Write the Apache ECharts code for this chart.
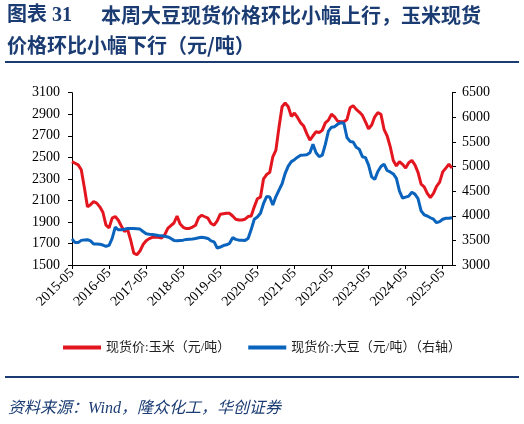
<!DOCTYPE html>
<html><head><meta charset="utf-8">
<script src="https://cdn.jsdelivr.net/npm/echarts@6/dist/echarts.min.js"></script>
<style>html,body{margin:0;padding:0;background:#fff}#c{width:524px;height:424px}</style>
</head><body><div id="c"></div>
<script>
// Monthly categories 2015-05 .. 2025-08
var startYear = 2015, startMonth = 5, monthCount = 124;
var categories = [];
for (var i = 0; i < monthCount; i++) {
  var mm = startMonth - 1 + i;
  var y = startYear + Math.floor(mm / 12);
  var m = (mm % 12) + 1;
  categories.push(y + '-' + (m < 10 ? '0' + m : m));
}
var cornPrice = [
 2460,2445,2430,2385,2220,2040,2060,2088,2075,2040,1990,1870,
 1845,1935,1950,1915,1860,1810,1830,1730,1610,1595,1630,1690,
 1725,1745,1757,1757,1757,1750,1780,1840,1865,1890,1955,1880,
 1850,1838,1840,1852,1870,1940,1962,1948,1935,1885,1870,1910,
 1972,1976,1980,1980,1955,1925,1918,1918,1925,1950,1955,2040,
 2115,2130,2300,2340,2360,2505,2567,2780,2970,3005,2970,2880,
 2910,2870,2820,2790,2720,2660,2700,2737,2730,2750,2820,2845,
 2900,2876,2835,2830,2830,2850,2960,2980,2945,2920,2890,2830,
 2765,2800,2876,2915,2900,2760,2700,2600,2470,2420,2459,2435,
 2400,2450,2472,2430,2360,2250,2225,2165,2125,2165,2230,2270,
 2365,2400,2435,2400
];
var soyPrice = [
 3530,3455,3455,3500,3510,3515,3490,3425,3425,3420,3405,3380,
 3400,3540,3770,3715,3715,3725,3740,3740,3740,3735,3730,3680,
 3635,3625,3620,3610,3600,3595,3585,3570,3540,3500,3495,3500,
 3505,3520,3525,3530,3540,3555,3565,3555,3540,3490,3470,3345,
 3365,3395,3410,3440,3555,3520,3505,3505,3500,3540,3720,3930,
 3975,4050,4250,4390,4380,4220,4390,4520,4650,4860,5010,5100,
 5140,5190,5230,5234,5240,5280,5450,5280,5200,5230,5450,5720,
 5800,5810,5860,5890,5880,5590,5510,5500,5390,5350,5200,5180,
 5030,4790,4740,4900,5000,5050,4920,4890,4850,4760,4500,4360,
 4380,4400,4480,4440,4350,4100,4020,3995,3960,3930,3860,3880,
 3930,3950,3950,3960
];
var seriesNames = ['现货价:玉米（元/吨）', '现货价:大豆（元/吨）（右轴）'];
var titleLine1a = '图表 31';
var titleLine1b = '本周大豆现货价格环比小幅上行，玉米现货';
var titleLine2 = '价格环比小幅下行（元/吨）';
var sourceText = '资料来源：Wind，隆众化工，华创证券';

var navy = '#1B3C73';
var serif = '"Liberation Serif","Noto Sans CJK SC",serif';
function plain(v) { return String(v); }
var chart = echarts.init(document.getElementById('c'));
chart.setOption({
  animation: false,
  backgroundColor: '#fff',
  graphic: [
    {type:'text', left:7, top:6, style:{text:titleLine1a, font:'bold 20px "Liberation Serif","Noto Sans CJK SC"', fill:navy}},
    {type:'text', left:101, top:5, style:{text:titleLine1b, font:'bold 20px "Noto Sans CJK SC"', fill:navy}},
    {type:'text', left:7, top:35, style:{text:titleLine2, font:'bold 20px "Noto Sans CJK SC"', fill:navy}},
    {type:'line', shape:{x1:5,y1:62,x2:519,y2:62}, style:{stroke:navy, lineWidth:2}},
    {type:'line', shape:{x1:5,y1:377,x2:519,y2:377}, style:{stroke:navy, lineWidth:2}},
    {type:'text', left:8, top:401, style:{text:sourceText, font:'italic 16px "Liberation Serif","Noto Sans CJK SC"', fill:navy}}
  ],
  legend: {
    left: 'center', top: 336,
    itemWidth: 38, itemHeight: 4, itemGap: 18,
    icon: 'rect',
    textStyle: {fontFamily: serif, fontSize: 13, color: '#222'},
    data: seriesNames
  },
  grid: {left: 72, right: 72, top: 92.7, bottom: 159, containLabel: false},
  xAxis: {
    type: 'category', data: categories, boundaryGap: false,
    axisLine: {lineStyle: {color: '#000', width: 1}},
    axisTick: {interval: 11, length: 4, lineStyle: {color: '#000'}},
    axisLabel: {interval: 11, rotate: 45, margin: 6, fontFamily: serif, fontSize: 14, color: '#000'}
  },
  yAxis: [
    {type: 'value', min: 1500, max: 3100, interval: 200,
     axisLine: {show: true, lineStyle: {color: '#000'}},
     axisTick: {show: true, length: 4, lineStyle: {color: '#000'}},
     splitLine: {show: false},
     axisLabel: {margin: 12, fontFamily: serif, fontSize: 14, color: '#000', formatter: plain}},
    {type: 'value', min: 3000, max: 6500, interval: 500, position: 'right',
     axisLine: {show: true, lineStyle: {color: '#000'}},
     axisTick: {show: true, length: 4, lineStyle: {color: '#000'}},
     splitLine: {show: false},
     axisLabel: {margin: 10, fontFamily: serif, fontSize: 14, color: '#000', formatter: plain}}
  ],
  series: [
    {name: seriesNames[0], type: 'line', data: cornPrice, yAxisIndex: 0, symbol: 'none',
     lineStyle: {color: '#E3161F', width: 3}, itemStyle: {color: '#E3161F'}},
    {name: seriesNames[1], type: 'line', data: soyPrice, yAxisIndex: 1, symbol: 'none',
     lineStyle: {color: '#0A63BC', width: 3}, itemStyle: {color: '#0A63BC'}}
  ]
});
</script></body></html>
